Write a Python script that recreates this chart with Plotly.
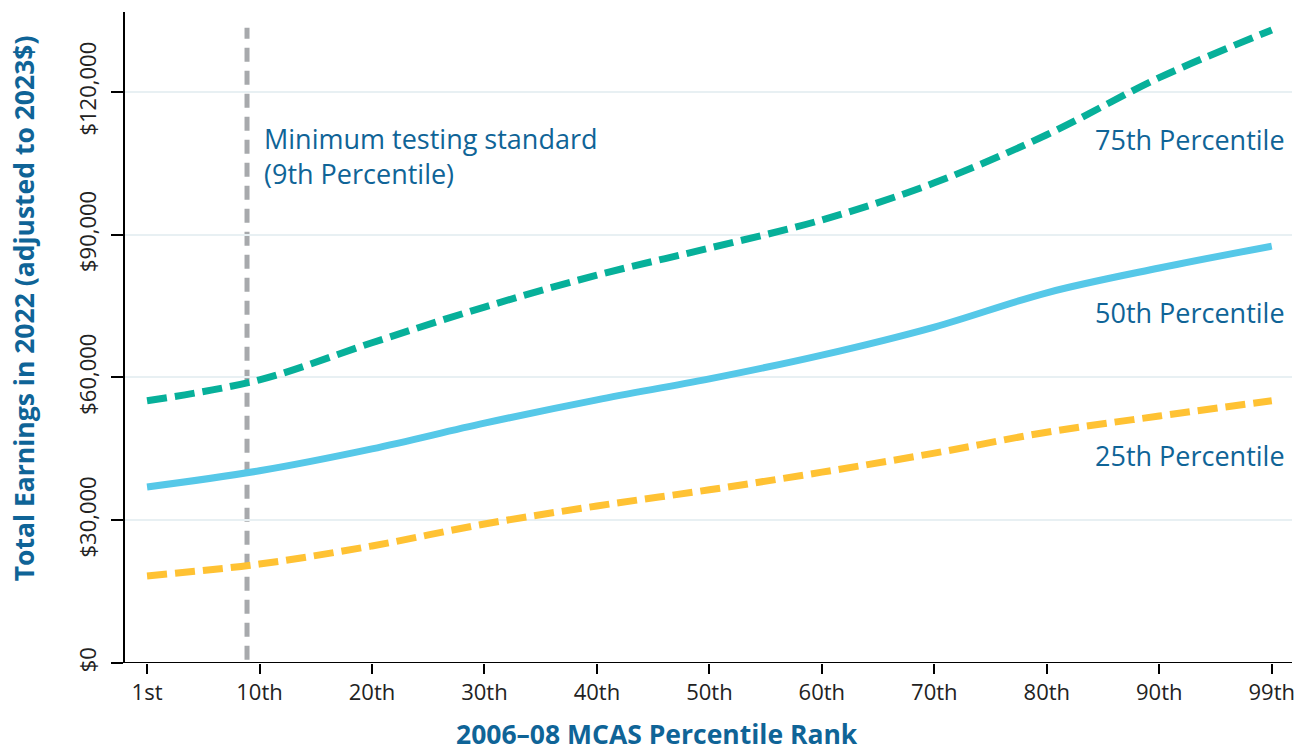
import plotly.graph_objects as go

# =====================================================
# DATA
# =====================================================

tick_labels = ["1st", "10th", "20th", "30th", "40th", "50th",
               "60th", "70th", "80th", "90th", "99th"]
tick_pos = list(range(len(tick_labels)))

p75 = [55100, 59500, 67300, 74800, 81500, 87200, 93100, 100900, 111000, 123000, 133000]
p50 = [37000, 40400, 45000, 50400, 55300, 59700, 64700, 70600, 77800, 83000, 87600]
p25 = [18300, 20800, 24600, 29200, 33000, 36400, 40100, 44100, 48500, 51900, 55100]

y_ticks = [0, 30000, 60000, 90000, 120000]
y_tick_labels = ["$0", "$30,000", "$60,000", "$90,000", "$120,000"]

# 9th percentile sits 8/9 of the way from 1st to 10th
min_standard = 8 / 9

TEXT_BLUE = "#0f6497"
FONT = "Open Sans"

# =====================================================
# FIGURE
# =====================================================

fig = go.Figure()

fig.add_trace(go.Scatter(
    x=tick_pos, y=p25, mode="lines", line_shape="spline",
    line=dict(color="#ffc233", width=7, dash="20px,8px"),
))
fig.add_trace(go.Scatter(
    x=tick_pos, y=p50, mode="lines", line_shape="spline",
    line=dict(color="#56c8e8", width=7),
))
fig.add_trace(go.Scatter(
    x=tick_pos, y=p75, mode="lines", line_shape="spline",
    line=dict(color="#07b09a", width=7, dash="20px,8px"),
))

# minimum testing standard line
fig.add_shape(
    type="line", xref="x", yref="y",
    x0=min_standard, x1=min_standard, y0=700, y1=133500,
    line=dict(color="#a7a9ac", width=5, dash="14px,9px"),
    layer="below",
)

# x axis line that runs under the y ticks
fig.add_shape(
    type="line", xref="paper", yref="y",
    x0=-0.0103, x1=1, y0=0, y1=0,
    line=dict(color="black", width=2),
)

fig.add_annotation(
    x=min_standard, y=106500, xref="x", yref="y",
    xanchor="left", yanchor="middle", xshift=15, align="left",
    text="Minimum testing standard<br>(9th Percentile)",
    showarrow=False, font=dict(size=27, color=TEXT_BLUE, family=FONT),
)

for label, yv in [("75th Percentile", 110100),
                  ("50th Percentile", 73600),
                  ("25th Percentile", 43500)]:
    fig.add_annotation(
        x=1, y=yv, xref="paper", yref="y",
        xanchor="right", yanchor="middle", xshift=-5,
        text=label, showarrow=False,
        font=dict(size=27, color=TEXT_BLUE, family=FONT),
    )

# axis titles as annotations, they sit off-centre in the original
fig.add_annotation(
    x=-0.0865, y=0.545, xref="paper", yref="paper",
    xanchor="center", yanchor="middle", textangle=-90,
    text="<b>Total Earnings in 2022 (adjusted to 2023$)</b>",
    showarrow=False, font=dict(size=26.5, color=TEXT_BLUE, family=FONT),
)
fig.add_annotation(
    x=0.456, y=-0.109, xref="paper", yref="paper",
    xanchor="center", yanchor="middle",
    text="<b>2006\u201308 MCAS Percentile Rank</b>",
    showarrow=False, font=dict(size=26.5, color=TEXT_BLUE, family=FONT),
)

fig.update_layout(
    width=1302, height=753,
    margin=dict(l=125, r=10, t=12, b=90),
    paper_bgcolor="white",
    plot_bgcolor="white",
    showlegend=False,
    font=dict(family=FONT, size=22, color="#222222"),
)

fig.update_xaxes(
    range=[-0.196, 10.18],
    tickvals=tick_pos, ticktext=tick_labels,
    showgrid=False, zeroline=False,
    showline=False, automargin=False,
    ticks="outside", ticklen=10, tickwidth=2, tickcolor="black",
    tickfont=dict(size=22),
)

fig.update_yaxes(
    range=[0, 136800],
    tickvals=y_ticks, ticktext=y_tick_labels,
    tickangle=-90, ticklabelstandoff=6,
    showgrid=True, gridcolor="#e8f0f3", gridwidth=2,
    zeroline=False, automargin=False,
    showline=True, linecolor="black", linewidth=2,
    ticks="outside", ticklen=12, tickwidth=2, tickcolor="black",
    tickfont=dict(size=22),
)

# drop the default 8px page margin so the figure fills the window
fig.write_html(
    "out.html",
    config={"displayModeBar": False},
    post_script="document.body.style.margin = '0';",
)
